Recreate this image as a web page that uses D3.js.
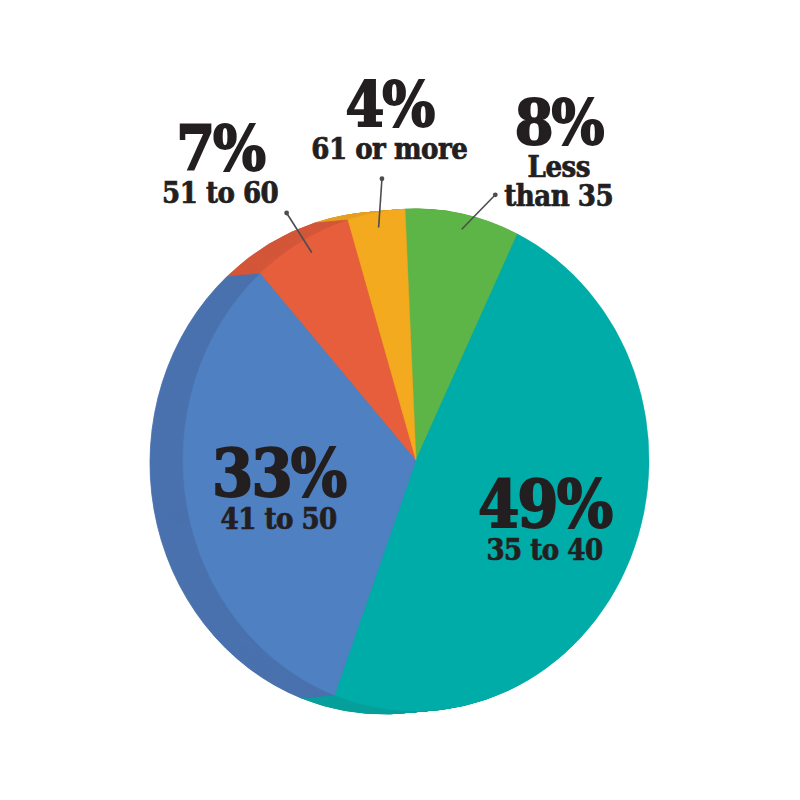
<!DOCTYPE html>
<html>
<head>
<meta charset="utf-8">
<script src="https://cdn.jsdelivr.net/npm/d3@7"></script>
<style>
  body { margin: 0; background: #fff; }
  text { font-family: "DejaVu Serif Condensed", "DejaVu Serif", serif; font-weight: bold; fill: #231f20; stroke: #231f20; font-stretch: condensed; }
</style>
</head>
<body>
<div id="chart"></div>
<script>
// age groups, clockwise from the top
const categories = ['Less than 35', '35 to 40', '41 to 50', '51 to 60', '61 or more'];
const shares = [8, 49, 33, 7, 4];
const faceColors = ['#5db548', '#00aca8', '#4f80c1', '#e65e3b', '#f4aa1f'];
const sideColors = ['#4f9e3e', '#07a09c', '#4a72ae', '#d4573a', '#e59f21'];
// category text split over lines
const labelLines = [['Less', 'than 35'], ['35 to 40'], ['41 to 50'], ['51 to 60'], ['61 or more']];

const width = 800, height = 800;
const cx = 416, cy = 460, r = 233, sy = 251 / 233;
const depthX = -33, depthY = 3;

// label placement: inside or outside, angle nudge (deg), radius factor, leader nudges
const placement = [
    { inside: false, da: 15, k: 1.37, inA: 0.5, outA: 6.3, outK: 1.11 },
    { inside: true, da: 0, k: 0.6 },
    { inside: true, da: 0, k: 0.6 },
    { inside: false, da: -6, k: 1.45, inA: 1, outA: 0, outK: 1.13 },
    { inside: false, da: 5, k: 1.36, inA: 0, outA: 2.4, outK: 1.13 }
];

const svg = d3.select('#chart').append('svg')
    .attr('width', width)
    .attr('height', height);

const start = -2.7 * Math.PI / 180;
const pie = d3.pie().sort(null).value(d => d)
    .startAngle(start).endAngle(start + 2 * Math.PI);
const arcs = pie(shares);
const arc = d3.arc().innerRadius(0).outerRadius(r);

// side of the disc: stacked copies from the back to the face
const steps = d3.range(0, 1, 1 / 34);
steps.forEach(function (t) {
    svg.append('g')
        .attr('transform', 'translate(' + (cx + depthX * (1 - t)) + ',' + (cy + depthY * (1 - t)) + ') scale(1,' + sy + ')')
        .selectAll('path').data(arcs).enter().append('path')
        .attr('d', arc)
        .attr('fill', (d, i) => sideColors[i])
        .attr('stroke', (d, i) => sideColors[i])
        .attr('stroke-width', 0.8);
});

svg.append('g')
    .attr('transform', 'translate(' + cx + ',' + cy + ') scale(1,' + sy + ')')
    .selectAll('path').data(arcs).enter().append('path')
    .attr('d', arc)
    .attr('fill', (d, i) => faceColors[i])
    .attr('stroke', (d, i) => faceColors[i])
    .attr('stroke-width', 0.5);

function polar(a, k) {
    return [cx + r * k * Math.sin(a), cy - r * sy * k * Math.cos(a)];
}
const rad = Math.PI / 180;

const labels = svg.append('g');
arcs.forEach(function (d, i) {
    const mid = (d.startAngle + d.endAngle) / 2;
    const p = placement[i];
    if (!p.inside) {
        const a = polar(mid + p.inA * rad, 0.94), b = polar(mid + p.outA * rad, p.outK);
        labels.append('line')
            .attr('x1', a[0]).attr('y1', a[1]).attr('x2', b[0]).attr('y2', b[1])
            .attr('stroke', '#4d4d4f').attr('stroke-width', 1.6);
        labels.append('circle').attr('cx', b[0]).attr('cy', b[1]).attr('r', 2.4).attr('fill', '#4d4d4f');
    }
    const c = polar(mid + p.da * rad, p.k);
    const lines = labelLines[i];
    const big = p.inside ? 66 : 62, small = 29;
    const blockH = big * 0.73 + lines.length * small + 4;
    let y = c[1] - blockH / 2 + big * 0.73;
    labels.append('text')
        .attr('x', c[0]).attr('y', y)
        .attr('text-anchor', 'middle')
        .style('font-size', big + 'px')
        .style('letter-spacing', '-2px')
        .style('stroke-width', 1.8)
        .text(shares[i] + '%');
    y += 4;
    lines.forEach(function (t) {
        y += small;
        labels.append('text')
            .attr('x', c[0]).attr('y', y)
            .attr('text-anchor', 'middle')
            .style('font-size', small + 'px')
            .style('letter-spacing', '-0.5px')
            .style('stroke-width', 0.7)
            .text(t);
    });
});
</script>
</body>
</html>
